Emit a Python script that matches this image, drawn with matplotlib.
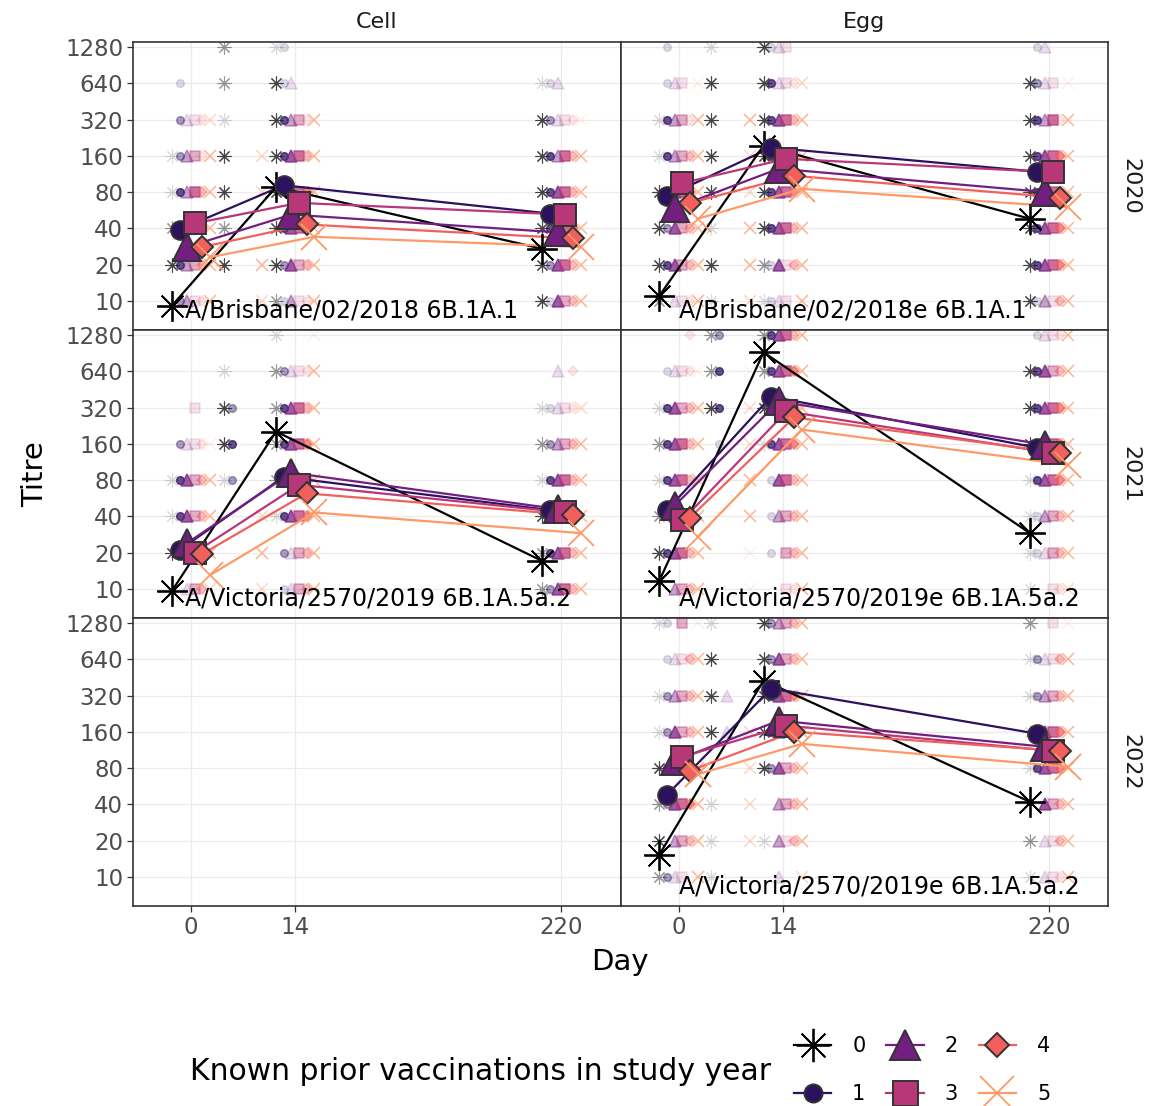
import numpy as np
import matplotlib
matplotlib.use('Agg')
import matplotlib.pyplot as plt
from matplotlib.lines import Line2D
from matplotlib.ticker import NullLocator
from matplotlib.transforms import ScaledTranslation

# ── Données ───────────────────────────────────────────────────────────────────
DAYS = [0, 7, 14, 220]
SUMMARY_DAYS = [0, 14, 220]
DAY_TICKS = [0, 14, 220]
LEVELS = [1280, 640, 320, 160, 80, 40, 20, 10]   # top -> bottom
GROUPS = ['0', '1', '2', '3', '4', '5']

COLOURS = ['#000000', '#2c115f', '#721f81', '#b73779', '#f1605d', '#fd9a69']
MARKERS = [(8, 2, 0), 'o', '^', 's', 'D', 'x']

# moyennes géométriques (groupe x jour 0/14/220)
CELL_2020 = [[9.1, 88, 27], [39, 91, 53], [28, 52, 37],
             [44, 65, 52], [28, 43, 33], [23, 34, 28]]
EGG_2020 = [[11, 194, 48], [74, 187, 118], [59, 125, 80],
            [95, 151, 117], [65, 109, 72], [48, 85, 60]]
CELL_2021 = [[9.6, 202, 17], [21, 85, 45], [24, 92, 46],
             [20, 73, 43], [19.5, 62, 41], [13, 43, 29]]
EGG_2021 = [[11.7, 920, 29], [45, 395, 148], [49, 360, 157],
            [37, 297, 134], [39, 265, 134], [27, 210, 107]]
EGG_2022 = [[15.3, 426, 42], [48, 366, 154], [92, 198, 120],
            [99, 180, 111], [76, 160, 111], [71, 127, 82]]

# densité des titres individuels (0 rien .. 3 dense), une chaîne par niveau,
# un caractère par groupe
CELL_2020_SPREAD = {
    0:   ["000000", "010000", "021112", "122213", "132323", "233333", "332223", "022113"],
    7:   ["200000", "200000", "100000", "300002", "300002", "200000", "300003", "000002"],
    14:  ["110000", "311000", "332213", "333323", "333333", "333333", "323223", "212113"],
    220: ["000000", "111000", "321111", "332323", "333323", "333333", "323323", "313223"],
}
EGG_2020_SPREAD = {
    0:   ["010000", "011101", "132213", "132223", "333333", "323223", "333223", "201113"],
    7:   ["100000", "300000", "300003", "300002", "300002", "100003", "300003", "100002"],
    14:  ["311100", "331112", "333323", "333333", "333333", "333323", "213123", "111103"],
    220: ["011000", "321101", "332313", "333333", "333333", "333333", "333333", "312123"],
}
CELL_2021_SPREAD = {
    0:   ["000000", "000000", "000100", "021111", "133223", "133223", "333333", "001222"],
    7:   ["000000", "100000", "320000", "330000", "120000", "000002", "000003", "000002"],
    14:  ["100001", "221113", "233323", "233333", "233333", "133333", "021223", "011223"],
    220: ["000000", "001010", "111112", "222223", "133323", "333333", "233323", "223323"],
}
EGG_2021_SPREAD = {
    0:   ["000010", "011111", "133223", "233323", "133323", "233333", "333323", "002223"],
    7:   ["220000", "230001", "330002", "010002", "000003", "000003", "000001", "000001"],
    14:  ["233323", "233333", "333333", "133333", "013323", "012223", "010223", "000113"],
    220: ["011113", "333223", "333333", "333333", "133333", "112223", "111223", "100112"],
}
EGG_2022_SPREAD = {
    0:   ["110201", "011123", "122223", "123223", "333333", "223333", "302223", "221103"],
    7:   ["100000", "300000", "301000", "301002", "000002", "100002", "100002", "100000"],
    14:  ["322223", "323223", "333333", "333333", "323223", "002223", "102123", "001002"],
    220: ["200101", "121123", "122223", "133333", "133333", "003223", "201123", "101113"],
}

STRAIN_CELL_2020 = "A/Brisbane/02/2018 6B.1A.1"
STRAIN_EGG_2020 = "A/Brisbane/02/2018e 6B.1A.1"
STRAIN_CELL_2021 = "A/Victoria/2570/2019 6B.1A.5a.2"
STRAIN_EGG_2021 = "A/Victoria/2570/2019e 6B.1A.5a.2"
STRAIN_EGG_2022 = "A/Victoria/2570/2019e 6B.1A.5a.2"

COL_LABELS = ['Cell', 'Egg']
ROW_LABELS = ['2020', '2021', '2022']

# ── Échelle x : linéaire jusqu'à J14 puis compressée ──────────────────────────
K = 0.1738


def fwd(x):
    x = np.asarray(x, dtype=float)
    return np.where(x <= 14, x, 14 + (x - 14) * K)


def inv(y):
    y = np.asarray(y, dtype=float)
    return np.where(y <= 14, y, 14 + (y - 14) / K)


ALPHA = {1: 0.15, 2: 0.4, 3: 0.72}
BG_SIZE = [10, 5.5, 8, 7.5, 4.8, 8.5]
BIG_SIZE = [22, 13.5, 20, 16.5, 11.5, 19]
DODGE_PT = 5.5

fig = plt.figure(figsize=(11.56, 11.06), dpi=100)
W, H = 1156, 1106
axes = fig.subplots(3, 2, sharex=True, sharey=True,
                    gridspec_kw=dict(left=133 / W, right=1108 / W,
                                     top=1 - 42 / H, bottom=1 - 906 / H,
                                     wspace=0, hspace=0))

panels = {
    (0, 0): (CELL_2020, CELL_2020_SPREAD, STRAIN_CELL_2020),
    (0, 1): (EGG_2020, EGG_2020_SPREAD, STRAIN_EGG_2020),
    (1, 0): (CELL_2021, CELL_2021_SPREAD, STRAIN_CELL_2021),
    (1, 1): (EGG_2021, EGG_2021_SPREAD, STRAIN_EGG_2021),
    (2, 1): (EGG_2022, EGG_2022_SPREAD, STRAIN_EGG_2022),
}
TEXT_X = [-0.8, 0.1]


def dodge(ax, g):
    dx = (g - 2.5) * DODGE_PT / 72
    return ax.transData + ScaledTranslation(dx, 0, fig.dpi_scale_trans)


for r in range(3):
    for c in range(2):
        ax = axes[r, c]
        ax.set_xscale('function', functions=(fwd, inv))
        ax.set_yscale('log', base=2)
        ax.set_xlim(-7.8, 265.7)
        ax.set_ylim(5.72, 1409)
        ax.set_xticks(DAY_TICKS)
        ax.set_xticklabels([str(d) for d in DAY_TICKS])
        ax.set_yticks(LEVELS)
        ax.set_yticklabels([str(v) for v in LEVELS])
        ax.yaxis.set_minor_locator(NullLocator())
        ax.xaxis.set_minor_locator(NullLocator())
        ax.grid(True, color='#ebebeb', lw=0.9, zorder=0)
        ax.set_axisbelow(True)
        for sp in ax.spines.values():
            sp.set_edgecolor('#333333')
            sp.set_linewidth(1.2)
        ax.tick_params(colors='#333333', labelcolor='#4d4d4d', labelsize=16.5,
                       length=4.5, width=0.9, pad=2.5,
                       left=(c == 0), labelleft=(c == 0),
                       bottom=(r == 2), labelbottom=(r == 2))
        if r == 0:
            ax.set_title(COL_LABELS[c], fontsize=16, color='#1a1a1a', pad=10)
        if c == 1:
            ax.text(1.045, 0.5, ROW_LABELS[r], rotation=-90, fontsize=16,
                    color='#1a1a1a', ha='center', va='center',
                    transform=ax.transAxes)

        if (r, c) not in panels:
            continue
        summary, spread, strain = panels[(r, c)]

        # titres individuels
        for day in DAYS:
            rows = spread[day]
            for g in range(6):
                tr = dodge(ax, g)
                for lev, row in zip(LEVELS, rows):
                    k = int(row[g])
                    if k == 0:
                        continue
                    filled = g not in (0, 5)
                    ax.plot([day], [lev], linestyle='none', marker=MARKERS[g],
                            ms=BG_SIZE[g], color=COLOURS[g],
                            mfc=COLOURS[g] if filled else 'none',
                            mec=COLOURS[g], mew=0.8 if g == 0 else 1.1,
                            alpha=ALPHA[k], transform=tr, zorder=2)

        # moyennes + lignes
        for g in range(6):
            tr = dodge(ax, g)
            ax.plot(SUMMARY_DAYS, summary[g], color=COLOURS[g], lw=1.6,
                    transform=tr, zorder=3)
        for g in range(6):
            tr = dodge(ax, g)
            if g in (0, 5):
                ax.plot(SUMMARY_DAYS, summary[g], linestyle='none',
                        marker=MARKERS[g], ms=BIG_SIZE[g], color=COLOURS[g],
                        mew=1.3, transform=tr, zorder=4)
            else:
                ax.plot(SUMMARY_DAYS, summary[g], linestyle='none',
                        marker=MARKERS[g], ms=BIG_SIZE[g], mfc=COLOURS[g],
                        mec='#333333', mew=1.4, transform=tr, zorder=4)

        ax.text(TEXT_X[c], 8.3, strain, fontsize=17, color='black',
                ha='left', va='center', zorder=5)

fig.text(35 / W, 1 - 474 / H, 'Titre', rotation=90, fontsize=21,
         ha='center', va='center')
fig.text(620 / W, 1 - 962 / H, 'Day', fontsize=21, ha='center', va='center')

# ── Légende ───────────────────────────────────────────────────────────────────
LEG_SIZE = [24, 13, 21, 18, 12, 24]
handles = []
for g in range(6):
    if g in (0, 5):
        h = Line2D([0], [0], color=COLOURS[g], lw=1.6, marker=MARKERS[g],
                   ms=LEG_SIZE[g], mew=1.3)
    else:
        h = Line2D([0], [0], color=COLOURS[g], lw=1.6, marker=MARKERS[g],
                   ms=LEG_SIZE[g], mfc=COLOURS[g], mec='#333333', mew=1.4)
    handles.append(h)
fig.legend(handles, GROUPS, ncol=3, loc='center', frameon=False,
           bbox_to_anchor=(922 / W, 1 - 1070 / H), fontsize=15,
           handlelength=1.8, columnspacing=1.0, labelspacing=1.35,
           handletextpad=1.0)
fig.text(190 / W, 1 - 1072 / H, 'Known prior vaccinations in study year',
         fontsize=21.5, ha='left', va='center')

fig.savefig('out.png', dpi=100, facecolor='white')
